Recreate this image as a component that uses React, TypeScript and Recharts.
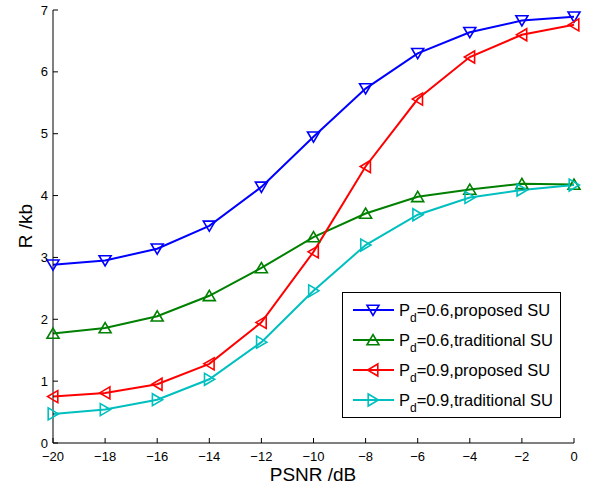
import React from 'react';
import { LineChart, Line, XAxis, YAxis, Legend } from 'recharts';

const psnr = [-20, -18, -16, -14, -12, -10, -8, -6, -4, -2, 0];
const pd06Proposed = [2.88, 2.95, 3.14, 3.51, 4.14, 4.95, 5.73, 6.30, 6.64, 6.83, 6.89];
const pd06Traditional = [1.77, 1.86, 2.05, 2.38, 2.83, 3.33, 3.71, 3.98, 4.10, 4.19, 4.18];
const pd09Proposed = [0.75, 0.81, 0.95, 1.28, 1.95, 3.09, 4.47, 5.56, 6.24, 6.60, 6.76];
const pd09Traditional = [0.47, 0.54, 0.70, 1.03, 1.63, 2.46, 3.20, 3.69, 3.97, 4.09, 4.17];

const xTicks = [-20, -18, -16, -14, -12, -10, -8, -6, -4, -2, 0];
const yTicks = [0, 1, 2, 3, 4, 5, 6, 7];

const seriesKeys = ['s1', 's2', 's3', 's4'];
const seriesPd = ['0.6', '0.6', '0.9', '0.9'];
const seriesLabel = ['proposed SU', 'traditional SU', 'proposed SU', 'traditional SU'];
const seriesColors = ['#0000ff', '#008000', '#ff0000', '#00bfbf'];
const seriesMarkers = ['down', 'up', 'left', 'right'];
const seriesValues = [pd06Proposed, pd06Traditional, pd09Proposed, pd09Traditional];

const data = psnr.map((x, i) => {
  const row: any = { x };
  seriesKeys.forEach((k, j) => {
    row[k] = seriesValues[j][i];
  });
  return row;
});

const FONT = '"Liberation Sans", Arial, Helvetica, sans-serif';

function trianglePoints(kind: string, cx: number, cy: number): string {
  const r = 6;
  switch (kind) {
    case 'down':
      return `${cx - r},${cy - r * 0.8} ${cx + r},${cy - r * 0.8} ${cx},${cy + r * 0.9}`;
    case 'up':
      return `${cx - r},${cy + r * 0.8} ${cx + r},${cy + r * 0.8} ${cx},${cy - r * 0.9}`;
    case 'left':
      return `${cx + r * 0.8},${cy - r} ${cx + r * 0.8},${cy + r} ${cx - r * 0.9},${cy}`;
    default:
      return `${cx - r * 0.8},${cy - r} ${cx - r * 0.8},${cy + r} ${cx + r * 0.9},${cy}`;
  }
}

const makeDot = (kind: string, color: string) => (props: any) => {
  const { cx, cy, index } = props;
  if (cx == null || cy == null) return <g key={index} />;
  return (
    <polygon
      key={index}
      points={trianglePoints(kind, cx, cy)}
      fill="none"
      stroke={color}
      strokeWidth={1.6}
    />
  );
};

const fmtMinus = (v: any) => String(v).replace('-', '\u2212');

const renderLegend = () => (
  <div
    style={{
      border: '1px solid #000',
      background: '#fff',
      width: 219,
      height: 126,
      boxSizing: 'border-box',
      paddingTop: 2,
      fontFamily: FONT,
      fontSize: 16.5,
      color: '#000',
    }}
  >
    {seriesKeys.map((k, i) => (
      <div key={k} style={{ display: 'flex', alignItems: 'center', height: 30 }}>
        <svg width={56} height={20} style={{ flex: 'none' }}>
          <line x1={10} y1={10} x2={51} y2={10} stroke={seriesColors[i]} strokeWidth={2} />
          <polygon
            points={trianglePoints(seriesMarkers[i], 30, 10)}
            fill="none"
            stroke={seriesColors[i]}
            strokeWidth={1.6}
          />
        </svg>
        <span style={{ whiteSpace: 'nowrap', marginLeft: 0 }}>
          P<sub style={{ fontSize: 12, verticalAlign: '-6px', lineHeight: 0 }}>d</sub>={seriesPd[i]},{seriesLabel[i]}
        </span>
      </div>
    ))}
  </div>
);

export default function App() {
  return (
    <div style={{ position: 'absolute', left: 0, top: 0, background: '#fff' }}>
      <LineChart
        width={590}
        height={487}
        data={data}
        margin={{ top: 10, right: 16, bottom: 0, left: 0 }}
      >
        <XAxis
          dataKey="x"
          type="number"
          domain={[-20, 0]}
          ticks={xTicks}
          height={44}
          tickSize={-5}
          tickMargin={14}
          tickFormatter={fmtMinus}
          stroke="#000"
          tick={{ fill: '#000', fontSize: 13, fontFamily: FONT }}
          axisLine={{ stroke: '#000', strokeWidth: 1 }}
          tickLine={{ stroke: '#000' }}
          label={{
            content: () => (
              <text x={313} y={481} textAnchor="middle" fontFamily={FONT} fontSize={19} fill="#000">
                PSNR /dB
              </text>
            ),
          }}
        />
        <XAxis
          xAxisId="top"
          orientation="top"
          dataKey="x"
          type="number"
          domain={[-20, 0]}
          ticks={xTicks}
          height={0}
          tickSize={-5}
          tickFormatter={() => ''}
          stroke="#000"
          axisLine={{ stroke: '#000', strokeWidth: 1 }}
          tickLine={{ stroke: '#000' }}
        />
        <YAxis
          type="number"
          domain={[0, 7]}
          ticks={yTicks}
          width={53}
          tickSize={-5}
          tickMargin={10}
          stroke="#000"
          tick={{ fill: '#000', fontSize: 13, fontFamily: FONT }}
          axisLine={{ stroke: '#000', strokeWidth: 1 }}
          tickLine={{ stroke: '#000' }}
          label={{
            content: () => (
              <text
                x={32}
                y={226}
                textAnchor="middle"
                transform="rotate(-90 32 226)"
                fontFamily={FONT}
                fontSize={19}
                fill="#000"
              >
                R /kb
              </text>
            ),
          }}
        />
        <YAxis
          yAxisId="right"
          orientation="right"
          type="number"
          domain={[0, 7]}
          ticks={yTicks}
          width={0}
          tickSize={-5}
          tickFormatter={() => ''}
          stroke="#000"
          axisLine={{ stroke: '#000', strokeWidth: 1 }}
          tickLine={{ stroke: '#000' }}
        />
        {seriesKeys.map((k, i) => (
          <Line
            key={k}
            dataKey={k}
            name={`Pd=${seriesPd[i]},${seriesLabel[i]}`}
            stroke={seriesColors[i]}
            strokeWidth={2}
            dot={makeDot(seriesMarkers[i], seriesColors[i])}
            activeDot={false}
            isAnimationActive={false}
          />
        ))}
        <Legend
          layout="vertical"
          align="center"
          verticalAlign="middle"
          content={renderLegend}
          wrapperStyle={{ position: 'absolute', left: 342, top: 292, width: 219, height: 126 }}
        />
      </LineChart>
    </div>
  );
}
